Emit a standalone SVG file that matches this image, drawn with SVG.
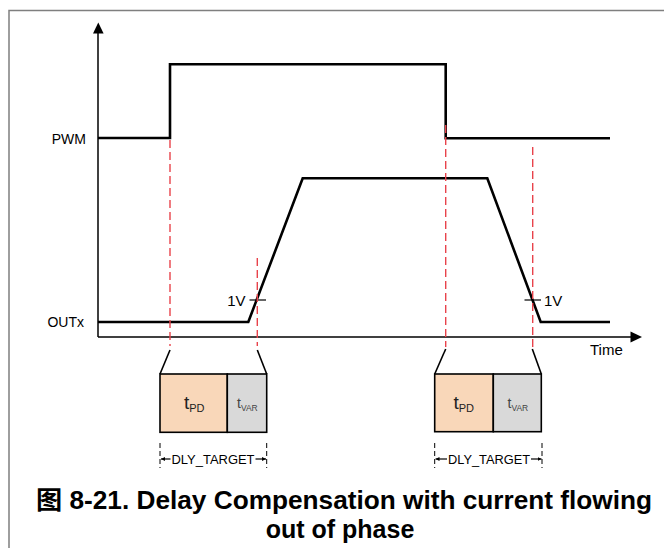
<svg xmlns="http://www.w3.org/2000/svg" width="664" height="548" viewBox="0 0 664 548">
<defs>
<style>
.sig{fill:none;stroke:#000;stroke-width:2.6;stroke-linejoin:miter}
.ax{fill:none;stroke:#000;stroke-width:1.5}
.red{fill:none;stroke:#E8434B;stroke-width:1.4;stroke-dasharray:8,4}
.lead{fill:none;stroke:#000;stroke-width:1.6}
.tick{fill:none;stroke:#000;stroke-width:1.2}
.dim{fill:none;stroke:#000;stroke-width:1;stroke-dasharray:5,3}
.lbl{font-family:"Liberation Sans",Arial,sans-serif;font-size:14px;fill:#000}
.lbl15{font-family:"Liberation Sans",Arial,sans-serif;font-size:15px;fill:#000}
.box{stroke:#000;stroke-width:1.6}
.tpd{font-family:"Liberation Sans",Arial,sans-serif;fill:#222}
.tvar{font-family:"Liberation Sans",Arial,sans-serif;fill:#444}
.dt{font-family:"Liberation Sans",Arial,sans-serif;font-size:12.5px;fill:#000}
.cap{font-family:"Liberation Sans","Noto Sans CJK SC",Arial,sans-serif;font-size:25px;font-weight:bold;fill:#000}
</style>
<marker id="ah" viewBox="0 0 10 10" refX="10" refY="5" markerWidth="4" markerHeight="4" orient="auto-start-reverse" markerUnits="userSpaceOnUse">
<path d="M0,0 L10,5 L0,10 z" fill="#000"/>
</marker>
</defs>
<rect width="664" height="548" fill="#fff"/>
<path d="M9,548 V10.5 H664" fill="none" stroke="#7f7f7f" stroke-width="1.5"/>
<g id="axes">
<path class="ax" d="M98,337 V32"/>
<path d="M93,33.5 L98.3,22.5 L103.6,33.5 z" fill="#000"/>
<path class="ax" d="M98,337 H631"/>
<path d="M630.5,331.5 L642,337 L630.5,342.5 z" fill="#000"/>
<text class="lbl15" x="590" y="355">Time</text>
</g>
<g id="pwm">
<text class="lbl" x="86" y="144" text-anchor="end">PWM</text>
<path class="sig" d="M98,138 H170 V64.3 H445.7 V138.3 H610"/>
</g>
<g id="outx">
<text class="lbl" x="84" y="327" text-anchor="end">OUTx</text>
<path class="sig" d="M98,322 H248.3 L302.7,178.3 H487.3 L540.7,322 H610"/>
</g>
<g id="marks">
<path class="tick" d="M249.5,300 H266"/>
<text class="lbl15" x="245.5" y="306" text-anchor="end">1V</text>
<path class="tick" d="M524.5,300 H541"/>
<text class="lbl15" x="544" y="306">1V</text>
</g>
<g id="connectors">
<path class="red" d="M170,140 V346"/>
<path class="red" d="M257.3,258 V346"/>
<path class="red" d="M445.7,125 V347"/>
<path class="red" d="M532.7,147 V347"/>
<path class="lead" d="M170,350 L160,374"/>
<path class="lead" d="M257.3,350 L266.7,374"/>
<path class="lead" d="M445.7,349 L434.7,374"/>
<path class="lead" d="M532.3,349 L541.3,374"/>
</g>
<g id="box1">
<rect class="box" x="160" y="374" width="67.3" height="58.3" fill="#F9D7B9"/>
<rect class="box" x="227.3" y="374" width="39.4" height="58.3" fill="#D9D9D9"/>
<text class="tpd" x="184" y="409" font-size="19">t<tspan font-size="11" dy="3">PD</tspan></text>
<text class="tvar" x="237" y="408" font-size="14">t<tspan font-size="8.5" dy="2.5">VAR</tspan></text>
</g>
<g id="box2">
<rect class="box" x="434.7" y="374" width="58.6" height="57.7" fill="#F9D7B9"/>
<rect class="box" x="493.3" y="374" width="48" height="57.7" fill="#D9D9D9"/>
<text class="tpd" x="453.5" y="409" font-size="19">t<tspan font-size="11" dy="3">PD</tspan></text>
<text class="tvar" x="507.5" y="408" font-size="14">t<tspan font-size="8.5" dy="2.5">VAR</tspan></text>
</g>
<g id="dly1">
<path class="dim" d="M160,443 V468 M266.7,443 V468"/>
<path class="tick" d="M170.5,459 H161" marker-end="url(#ah)"/>
<path class="tick" d="M255.5,459 H266" marker-end="url(#ah)"/>
<text class="dt" x="171.5" y="463.5" textLength="83" lengthAdjust="spacingAndGlyphs">DLY_TARGET</text>
</g>
<g id="dly2">
<path class="dim" d="M434.7,443 V468 M542,443 V468"/>
<path class="tick" d="M447,459 H435.5" marker-end="url(#ah)"/>
<path class="tick" d="M531,459 H541.5" marker-end="url(#ah)"/>
<text class="dt" x="448" y="463.5" textLength="82" lengthAdjust="spacingAndGlyphs">DLY_TARGET</text>
</g>
<g id="caption">
<text class="cap" x="36" y="509" textLength="616" lengthAdjust="spacingAndGlyphs">图 8-21. Delay Compensation with current flowing</text>
<text class="cap" x="340" y="538" text-anchor="middle">out of phase</text>
</g>
</svg>
